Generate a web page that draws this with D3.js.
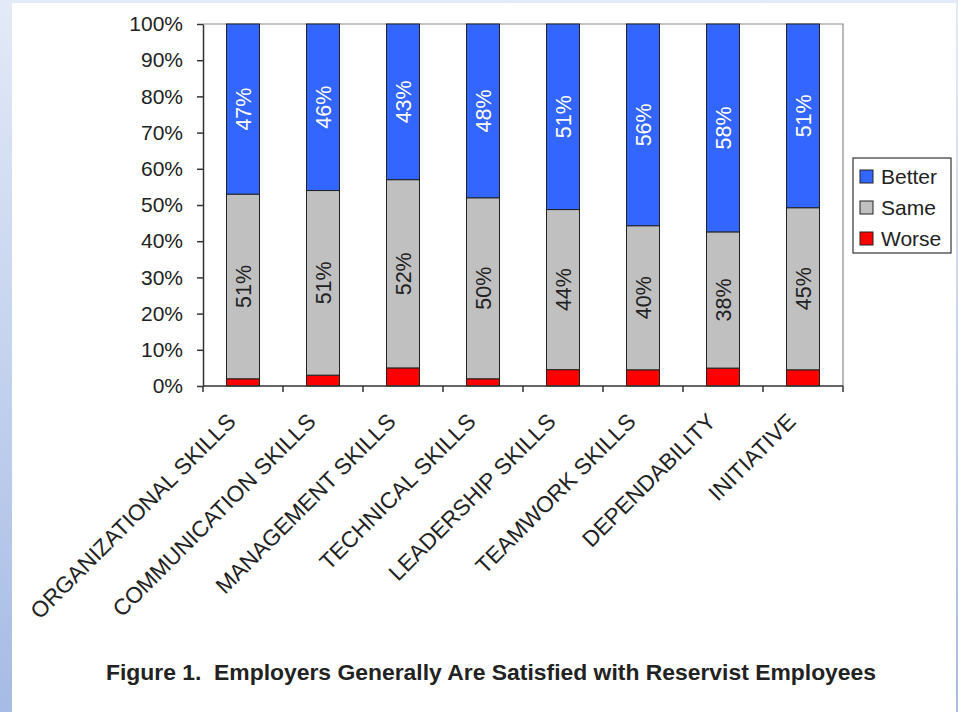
<!DOCTYPE html>
<html><head><meta charset="utf-8">
<script src="https://cdn.jsdelivr.net/npm/d3@7"></script>
<style>
html,body{margin:0;padding:0;background:#fff;}
svg{display:block;font-family:Arial,"Liberation Sans",sans-serif;}
</style></head>
<body><svg id="chart" width="958" height="712"></svg>
<script>
const categories = ["ORGANIZATIONAL SKILLS","COMMUNICATION SKILLS","MANAGEMENT SKILLS","TECHNICAL SKILLS","LEADERSHIP SKILLS","TEAMWORK SKILLS","DEPENDABILITY","INITIATIVE"];
const worse  = [2, 3, 5, 2, 4.5, 4.5, 5, 4.5];
const same   = [51, 51, 52, 50, 44, 40, 38, 45];
const better = [47, 46, 43, 48, 51, 56, 58, 51];
const seriesNames = ["Worse","Same","Better"];
const legendOrder = ["Better","Same","Worse"];
const yTickValues = [0,0.1,0.2,0.3,0.4,0.5,0.6,0.7,0.8,0.9,1];
const titleText = "Figure 1.\u00A0 Employers Generally Are Satisfied with Reservist Employees";

const colors = {Better:"#3366FF", Same:"#C0C0C0", Worse:"#FF0000"};
const labelColors = {Better:"#ffffff", Same:"#222222"};

const svg = d3.select("#chart");
const defs = svg.append("defs");
const grad = defs.append("linearGradient").attr("id","bg").attr("x1",0).attr("y1",0).attr("x2",0).attr("y2",1);
grad.append("stop").attr("offset","0%").attr("stop-color","#e3eaf7");
grad.append("stop").attr("offset","100%").attr("stop-color","#a6bbe5");
svg.append("rect").attr("width",958).attr("height",712).attr("fill","url(#bg)");
svg.append("rect").attr("x",12).attr("y",3).attr("width",944).attr("height",709).attr("fill","#ffffff");

const table = categories.map((c,i)=>({cat:c, Worse:worse[i], Same:same[i], Better:better[i]}));
const stack = d3.stack().keys(seriesNames).offset(d3.stackOffsetExpand)(table);

const pLeft=203, pRight=843, pTop=24, pBottom=386;
const x = d3.scaleBand().domain(categories).range([pLeft,pRight]).paddingInner(0.5875).paddingOuter(0.5875/2);
const y = d3.scaleLinear().domain([0,1]).range([pBottom,pTop]);

// plot area border (top/right)
svg.append("path").attr("d",`M${pLeft},${pTop}H${pRight}V${pBottom}`).attr("fill","none").attr("stroke","#8c8c8c").attr("stroke-width",1.2);

// bars
const g = svg.append("g");
stack.forEach(s=>{
  g.selectAll(null).data(s).enter().append("rect")
    .attr("x",d=>x(d.data.cat))
    .attr("y",d=>y(d[1]))
    .attr("width",x.bandwidth())
    .attr("height",d=>y(d[0])-y(d[1]))
    .attr("fill",colors[s.key])
    .attr("stroke","#222")
    .attr("stroke-width",1);
  if (labelColors[s.key]) {
    g.selectAll(null).data(s).enter().append("text")
      .attr("transform",d=>`translate(${x(d.data.cat)+x.bandwidth()/2},${(y(d[0])+y(d[1]))/2}) rotate(-90)`)
      .attr("text-anchor","middle").attr("dy","0.36em")
      .attr("font-size",21.5).attr("fill",labelColors[s.key])
      .text(d=>d.data[s.key]+"%");
  }
});

// y axis
const yAxis = svg.append("g").attr("transform",`translate(${pLeft},0)`)
  .call(d3.axisLeft(y).tickValues(yTickValues).tickFormat(d3.format(".0%")).tickSize(6).tickSizeOuter(0));
yAxis.select(".domain").attr("stroke","#333").attr("stroke-width",1.5);
yAxis.selectAll(".tick line").attr("stroke","#333").attr("stroke-width",1.5);
yAxis.selectAll(".tick text").attr("font-size",21).attr("fill","#222").attr("x",-20).attr("font-family","Arial,'Liberation Sans',sans-serif");

// x axis
const xg = svg.append("g");
xg.append("line").attr("x1",pLeft).attr("x2",pRight).attr("y1",pBottom).attr("y2",pBottom).attr("stroke","#333").attr("stroke-width",1.5);
d3.range(categories.length+1).forEach(i=>{
  const xx = pLeft + i*x.step();
  xg.append("line").attr("x1",xx).attr("x2",xx).attr("y1",pBottom).attr("y2",pBottom+6).attr("stroke","#333").attr("stroke-width",1.5);
});
xg.selectAll(null).data(categories).enter().append("text")
  .attr("transform",d=>`translate(${x(d)+x.bandwidth()/2-6},${pBottom+37}) rotate(-45)`)
  .attr("text-anchor","end").attr("font-size",22.5).attr("fill","#222")
  .text(d=>d);

// legend
const lg = svg.append("g");
lg.append("rect").attr("x",853).attr("y",158).attr("width",98).attr("height",95).attr("fill","#fff").attr("stroke","#333").attr("stroke-width",1.2);
legendOrder.forEach((k,i)=>{
  const cy = 176 + i*31;
  lg.append("rect").attr("x",860).attr("y",cy-6).attr("width",13).attr("height",13).attr("fill",colors[k]).attr("stroke","#222").attr("stroke-width",1);
  lg.append("text").attr("x",881).attr("y",cy).attr("dy","0.36em").attr("font-size",21).attr("fill","#222").text(k);
});

// title
svg.append("text").attr("x",491).attr("y",680).attr("text-anchor","middle").attr("font-size",22.9).attr("font-weight","bold").attr("fill","#222").text(titleText);
</script></body></html>
